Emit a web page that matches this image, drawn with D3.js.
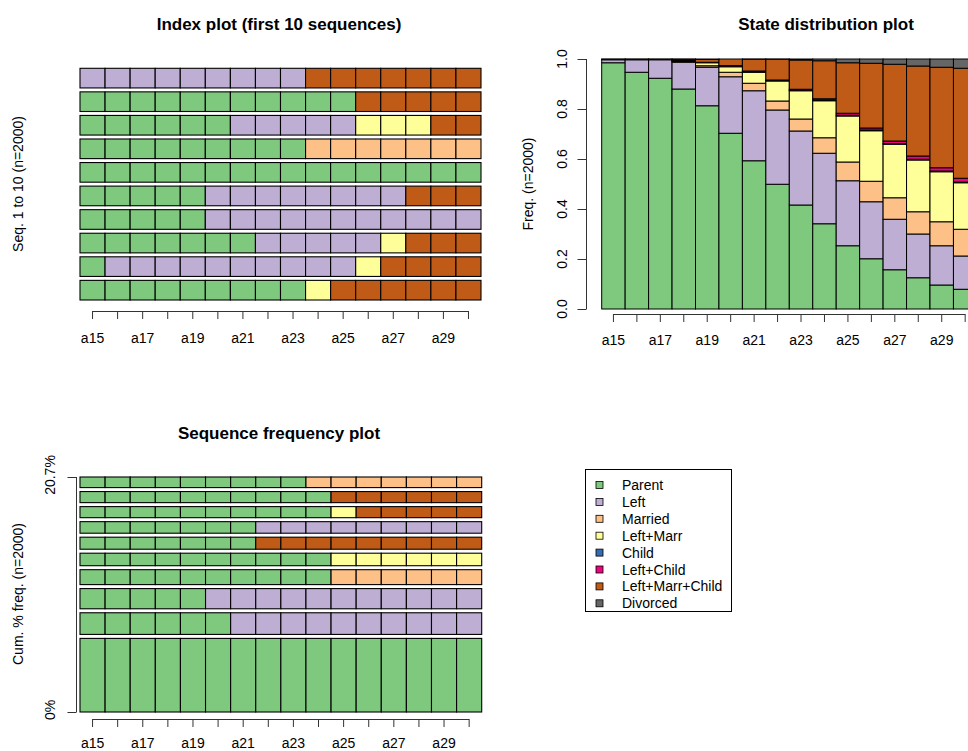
<!DOCTYPE html>
<html>
<head>
<meta charset="utf-8">
<script src="https://cdn.jsdelivr.net/npm/d3@7"></script>
<style>
  body { margin: 0; background: #fff; }
  svg { display: block; font-family: "Liberation Sans", Arial, Helvetica, sans-serif; }
</style>
</head>
<body>
<svg id="chart" width="968" height="751"></svg>
<script>
// ---- States and palette (Accent) ----
const states = ["Parent", "Left", "Married", "Left+Marr", "Child", "Left+Child", "Left+Marr+Child", "Divorced"];
const stateColors = ["#7FC97F", "#BEAED4", "#FDC086", "#FFFF99", "#386CB0", "#F0027F", "#BF5B17", "#666666"];

// ---- Time axis ----
const ages = ["a15", "a16", "a17", "a18", "a19", "a20", "a21", "a22",
              "a23", "a24", "a25", "a26", "a27", "a28", "a29", "a30"];
const nSeq = 2000;

// ---- First 10 sequences (state codes per age, seq 1 first) ----
const indexSeqs = [
  "0000000003666666",
  "0111111111136666",
  "0000000111113666",
  "0000011111111111",
  "0000011111111666",
  "0000000000000000",
  "0000000002222222",
  "0000001111133366",
  "0000000000066666",
  "1111111116666666"
];

// ---- 10 most frequent sequences and their counts ----
const freqSeqs = [
  "0000000000000000",
  "0000001111111111",
  "0000011111111111",
  "0000000000222222",
  "0000000000333333",
  "0000000666666666",
  "0000000111111111",
  "0000000000366666",
  "0000000000666666",
  "0000000002222222"
];
const freqCounts = [153, 45, 42, 31, 26, 25, 24, 23, 23, 22];

// ---- Cross-sectional state distribution, one array per state ----
const distParent    = [0.985, 0.947, 0.923, 0.880, 0.813, 0.703, 0.593, 0.499, 0.416, 0.341, 0.253, 0.201, 0.157, 0.125, 0.096, 0.079];
const distLeft      = [0.012, 0.050, 0.074, 0.107, 0.154, 0.226, 0.280, 0.297, 0.296, 0.282, 0.260, 0.228, 0.202, 0.175, 0.157, 0.133];
const distMarried   = [0.001, 0.001, 0.001, 0.003, 0.006, 0.018, 0.030, 0.036, 0.048, 0.062, 0.075, 0.082, 0.086, 0.089, 0.096, 0.107];
const distLeftMarr  = [0.001, 0.001, 0.001, 0.004, 0.012, 0.022, 0.044, 0.080, 0.113, 0.148, 0.184, 0.202, 0.214, 0.207, 0.200, 0.186];
const distChild     = [0.000, 0.000, 0.000, 0.001, 0.001, 0.002, 0.002, 0.002, 0.002, 0.003, 0.003, 0.003, 0.003, 0.003, 0.003, 0.003];
const distLeftChild = [0.000, 0.000, 0.000, 0.001, 0.001, 0.003, 0.003, 0.002, 0.004, 0.005, 0.008, 0.008, 0.010, 0.013, 0.013, 0.015];
const distLMC       = [0.001, 0.001, 0.001, 0.003, 0.011, 0.026, 0.047, 0.083, 0.117, 0.152, 0.202, 0.259, 0.307, 0.360, 0.402, 0.440];
const distDivorced  = [0.000, 0.000, 0.000, 0.001, 0.002, 0.000, 0.001, 0.001, 0.004, 0.007, 0.015, 0.017, 0.021, 0.028, 0.033, 0.037];
const distByState = [distParent, distLeft, distMarried, distLeftMarr, distChild, distLeftChild, distLMC, distDivorced];

const svg = d3.select("#chart");
const FONT = 14;
const AXIS_COL = "#333";

function title(text, cx, y) {
  svg.append("text").attr("x", cx).attr("y", y)
    .attr("text-anchor", "middle").attr("font-size", 17).attr("font-weight", "bold")
    .attr("fill", "#000").text(text);
}

function vLabel(text, cx, cy) {
  svg.append("text").attr("transform", `translate(${cx},${cy}) rotate(-90)`)
    .attr("text-anchor", "middle").attr("dominant-baseline", "central")
    .attr("font-size", FONT).attr("fill", "#000").text(text);
}

// Bottom time axis drawn with d3.axisBottom; line spans first to last tick
function timeAxis(x, yLine, pad) {
  const bw = x.bandwidth();
  const g = svg.append("g").attr("transform", `translate(0,${yLine})`)
    .call(d3.axisBottom(x).tickSize(8).tickPadding(pad)
      .tickFormat((d, i) => (i % 2 === 0 ? d : "")));
  g.select(".domain").remove();
  g.selectAll(".tick line").attr("stroke", AXIS_COL);
  g.selectAll(".tick text").attr("font-size", FONT).attr("fill", "#000")
    .attr("font-family", "Liberation Sans, Arial, Helvetica, sans-serif");
  g.append("line")
    .attr("x1", x(ages[0]) + bw / 2).attr("x2", x(ages[ages.length - 1]) + bw / 2)
    .attr("y1", 0.5).attr("y2", 0.5).attr("stroke", AXIS_COL);
}

// ================= Index plot =================
{
  const x = d3.scaleBand().domain(ages).range([80, 481]).padding(0);
  const ids = indexSeqs.map((_, i) => i + 1);
  const y = d3.scaleBand().domain(ids).range([300, 68.3])
    .paddingInner(0.2 / 1.2).paddingOuter(0);

  const rows = svg.append("g").selectAll("g").data(indexSeqs).join("g")
    .attr("transform", (d, i) => `translate(0,${y(i + 1)})`);
  rows.selectAll("rect").data(s => s.split("").map((c, j) => ({ age: ages[j], st: +c })))
    .join("rect")
    .attr("x", d => x(d.age)).attr("y", 0)
    .attr("width", x.bandwidth()).attr("height", y.bandwidth())
    .attr("fill", d => stateColors[d.st]).attr("stroke", "#000").attr("stroke-width", 1.1);

  timeAxis(x, 311, 14);
  title("Index plot (first 10 sequences)", 279, 30);
  vLabel(`Seq. 1 to ${indexSeqs.length} (n=${nSeq})`, 18, 184);
}

// ================= State distribution plot =================
{
  const x = d3.scaleBand().domain(ages).range([601.7, 601.7 + 16 * 23.45]).padding(0);
  const y = d3.scaleLinear().domain([0, 1]).range([309, 59]);

  const table = ages.map((a, j) => {
    const row = { age: a };
    states.forEach((s, k) => { row[s] = distByState[k][j]; });
    return row;
  });
  const stacked = d3.stack().keys(states)(table);

  svg.append("g").selectAll("g").data(stacked).join("g")
    .attr("fill", (d, k) => stateColors[k])
    .selectAll("rect").data(d => d).join("rect")
    .attr("x", d => x(d.data.age)).attr("width", x.bandwidth())
    .attr("y", d => y(d[1])).attr("height", d => y(d[0]) - y(d[1]))
    .attr("stroke", "#000").attr("stroke-width", 1);

  // Left axis with rotated tick labels
  const ticks = [0, 0.2, 0.4, 0.6, 0.8, 1.0];
  const ga = svg.append("g").attr("transform", "translate(586.5,0)")
    .call(d3.axisLeft(y).tickValues(ticks).tickSize(9).tickFormat(""));
  ga.select(".domain").remove();
  ga.selectAll(".tick line").attr("stroke", AXIS_COL);
  ga.append("line").attr("x1", 0).attr("x2", 0)
    .attr("y1", y(0)).attr("y2", y(1)).attr("stroke", AXIS_COL);
  ticks.forEach(t => vLabel(d3.format(".1f")(t), 561.5, y(t)));

  timeAxis(x, 314, 13);
  title("State distribution plot", 826, 30);
  vLabel(`Freq. (n=${nSeq})`, 528, 184);
}

// ================= Sequence frequency plot =================
{
  const x = d3.scaleBand().domain(ages).range([80, 481.7]).padding(0);
  const gap = 0.2 * d3.mean(freqCounts);
  let cum = 0;
  const bars = freqCounts.map((c, i) => {
    const b = { seq: freqSeqs[i], y0: cum, y1: cum + c };
    cum += c + gap;
    return b;
  });
  const top = cum - gap;
  const y = d3.scaleLinear().domain([0, top]).range([712, 477]);

  const rows = svg.append("g").selectAll("g").data(bars).join("g");
  rows.selectAll("rect")
    .data(b => b.seq.split("").map((c, j) => ({ age: ages[j], st: +c, y0: b.y0, y1: b.y1 })))
    .join("rect")
    .attr("x", d => x(d.age)).attr("width", x.bandwidth())
    .attr("y", d => y(d.y1)).attr("height", d => y(d.y0) - y(d.y1))
    .attr("fill", d => stateColors[d.st]).attr("stroke", "#000").attr("stroke-width", 1.1);

  const cumPct = d3.sum(freqCounts) / nSeq * 100;
  const ga = svg.append("g").attr("transform", "translate(76.5,0)")
    .call(d3.axisLeft(y).tickValues([0, top]).tickSize(9).tickFormat(""));
  ga.select(".domain").remove();
  ga.selectAll(".tick line").attr("stroke", AXIS_COL);
  ga.append("line").attr("x1", 0).attr("x2", 0)
    .attr("y1", y(0)).attr("y2", y(top)).attr("stroke", AXIS_COL);
  vLabel("0%", 50, y(0) - 2);
  vLabel(cumPct.toFixed(1) + "%", 50, y(top) - 2);

  timeAxis(x, 719, 11);
  title("Sequence frequency plot", 279, 439);
  vLabel(`Cum. % freq. (n=${nSeq})`, 18, 594);
}

// ================= Legend =================
{
  const lg = svg.append("g");
  lg.append("rect").attr("x", 585.5).attr("y", 469.5).attr("width", 146).attr("height", 142)
    .attr("fill", "#fff").attr("stroke", "#000");
  const rowY = d3.scalePoint().domain(states).range([485, 603.3]);
  const items = lg.selectAll("g.item").data(states).join("g").attr("class", "item")
    .attr("transform", d => `translate(0,${rowY(d)})`);
  items.append("rect").attr("x", 596).attr("y", -3.5).attr("width", 7).attr("height", 7)
    .attr("fill", (d, i) => stateColors[i]).attr("stroke", "#000").attr("stroke-width", 0.8);
  items.append("text").attr("x", 622).attr("y", 0).attr("dominant-baseline", "central")
    .attr("font-size", FONT).attr("fill", "#000").text(d => d);
}
</script>
</body>
</html>
